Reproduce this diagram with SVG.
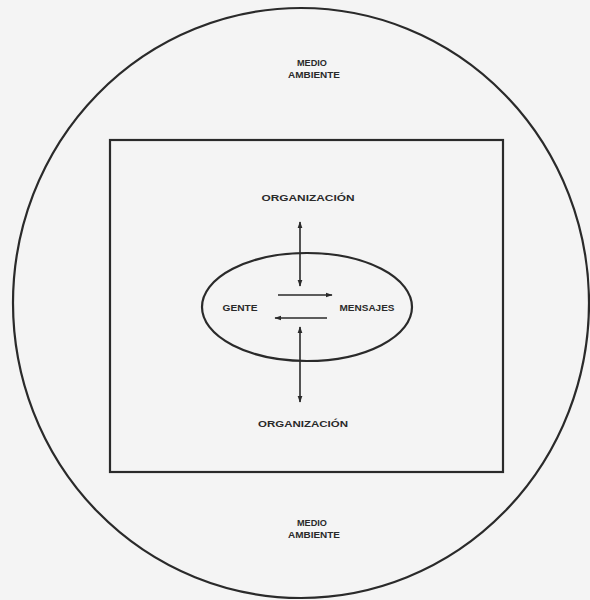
<svg xmlns="http://www.w3.org/2000/svg" width="590" height="600" viewBox="0 0 590 600">
<defs>
<style>
.shape{fill:none;stroke:#2a2a2a;stroke-width:2.2}
.conn{fill:none;stroke:#2a2a2a;stroke-width:1.6}
.lbl{font-family:"Liberation Sans","DejaVu Sans",sans-serif;font-weight:bold;font-size:9px;fill:#2a2a2a;text-anchor:middle}
</style>
<marker id="ah" viewBox="0 0 10 10" refX="9" refY="5" markerWidth="7" markerHeight="7" orient="auto-start-reverse" markerUnits="userSpaceOnUse">
<path d="M0,1.5 L10,5 L0,8.5 Z" fill="#2a2a2a"/>
</marker>
</defs>
<rect width="590" height="600" fill="#f4f4f4"/>
<g id="medio-ambiente">
<ellipse class="shape" cx="301" cy="303" rx="288" ry="295"/>
<text class="lbl" x="312" y="66" textLength="30" lengthAdjust="spacingAndGlyphs">MEDIO</text>
<text class="lbl" x="314" y="78" textLength="52" lengthAdjust="spacingAndGlyphs">AMBIENTE</text>
<text class="lbl" x="312" y="526" textLength="30" lengthAdjust="spacingAndGlyphs">MEDIO</text>
<text class="lbl" x="314" y="538" textLength="52" lengthAdjust="spacingAndGlyphs">AMBIENTE</text>
</g>
<g id="organizacion">
<rect class="shape" x="110" y="140" width="393" height="332"/>
<text class="lbl" x="308" y="201" textLength="93" lengthAdjust="spacingAndGlyphs">ORGANIZACIÓN</text>
<text class="lbl" x="303" y="427" textLength="90" lengthAdjust="spacingAndGlyphs">ORGANIZACIÓN</text>
</g>
<g id="gente-mensajes">
<ellipse class="shape" cx="307" cy="307" rx="105" ry="54"/>
<text class="lbl" x="240" y="311" textLength="35" lengthAdjust="spacingAndGlyphs">GENTE</text>
<text class="lbl" x="367" y="311" textLength="55" lengthAdjust="spacingAndGlyphs">MENSAJES</text>
</g>
<g id="connectors">
<line class="conn" x1="300" y1="222" x2="300" y2="286" marker-start="url(#ah)" marker-end="url(#ah)"/>
<line class="conn" x1="300" y1="327" x2="300" y2="402" marker-start="url(#ah)" marker-end="url(#ah)"/>
<line class="conn" x1="278" y1="295" x2="332" y2="295" marker-end="url(#ah)"/>
<line class="conn" x1="275" y1="318" x2="327" y2="318" marker-start="url(#ah)"/>
</g>
</svg>
